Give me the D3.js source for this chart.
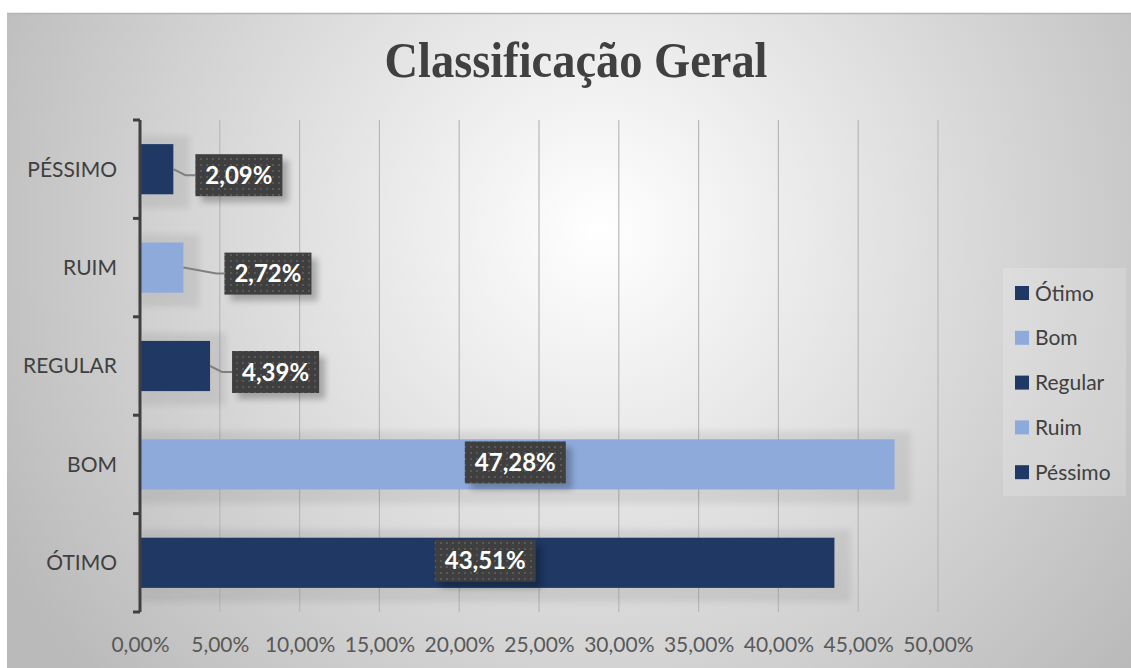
<!DOCTYPE html>
<html lang="pt">
<head>
<meta charset="UTF-8">
<title>Classificação Geral</title>
<script src="https://d3js.org/d3.v7.min.js"></script>
<style>
    body { margin: 0; background: #fff; }
    svg { display: block; }
    .cat text { font-family: Lato, "Open Sans", sans-serif; font-size: 21px; fill: #404040; }
    .xax text { font-family: Lato, "Open Sans", sans-serif; font-size: 21px; fill: #595959; }
    .lbl text { font-family: Lato, sans-serif; font-weight: bold; font-size: 24px; fill: #fff; }
    .legend text { font-family: Lato, "Open Sans", sans-serif; font-size: 21px; fill: #404040; }
</style>
</head>
<body>
<div id="chart"></div>
<script>
    // categories from bottom to top, as in the chart
    const categories = ["ÓTIMO", "BOM", "REGULAR", "RUIM", "PÉSSIMO"];
    const values = [43.51, 47.28, 4.39, 2.72, 2.09];
    const barColors = ["#1f3864", "#8eaadb", "#1f3864", "#8eaadb", "#1f3864"];
    const legendNames = ["Ótimo", "Bom", "Regular", "Ruim", "Péssimo"];
    const xTicks = [0, 5, 10, 15, 20, 25, 30, 35, 40, 45, 50];

    const W = 1131, H = 668;
    const fmt = v => v.toFixed(2).replace(".", ",") + "%";

    const svg = d3.select("#chart").append("svg")
        .attr("width", W)
        .attr("height", H);

    const defs = svg.append("defs");
    const bg = defs.append("radialGradient").attr("id", "bg")
        .attr("gradientUnits", "userSpaceOnUse")
        .attr("cx", 600).attr("cy", 230).attr("r", 680);
    bg.append("stop").attr("offset", "0%").attr("stop-color", "#ffffff");
    bg.append("stop").attr("offset", "100%").attr("stop-color", "#bababa");

    const pat = defs.append("pattern").attr("id", "dots")
        .attr("patternUnits", "userSpaceOnUse")
        .attr("width", 6).attr("height", 6);
    pat.append("rect").attr("width", 6).attr("height", 6).attr("fill", "#3f3f3f");
    pat.append("rect").attr("x", 2).attr("y", 2).attr("width", 2).attr("height", 2).attr("fill", "#595959");

    const sh = defs.append("filter").attr("id", "blur")
        .attr("x", "-20%").attr("y", "-20%").attr("width", "140%").attr("height", "140%");
    sh.append("feGaussianBlur").attr("stdDeviation", 3);

    // chart area background
    svg.append("rect")
        .attr("x", 7).attr("y", 13)
        .attr("width", W - 7).attr("height", H - 13)
        .attr("fill", "url(#bg)");
    svg.append("line")
        .attr("x1", 7).attr("x2", W).attr("y1", 13.5).attr("y2", 13.5)
        .attr("stroke", "#b4b4b4").attr("stroke-width", 1.5);

    // title
    svg.append("text")
        .attr("x", 576).attr("y", 77)
        .attr("text-anchor", "middle")
        .attr("textLength", 383)
        .attr("lengthAdjust", "spacingAndGlyphs")
        .style("font-family", "'Liberation Serif', 'DejaVu Serif', serif")
        .style("font-weight", "bold")
        .style("font-size", "50px")
        .style("fill", "#404040")
        .text("Classificação Geral");

    const margin = { left: 140, top: 120, bottom: 612 };
    const x = d3.scaleLinear().domain([0, 50]).range([margin.left, 938]);
    const y = d3.scaleBand().domain(categories.slice().reverse())
        .range([margin.top, margin.bottom]).paddingInner(0.49).paddingOuter(0.245);
    const yBand = d3.scaleBand().domain(categories.slice().reverse())
        .range([margin.top, margin.bottom]);

    // vertical gridlines
    svg.append("g")
        .selectAll("line")
        .data(xTicks.slice(1))
        .join("line")
        .attr("x1", d => x(d)).attr("x2", d => x(d))
        .attr("y1", margin.top).attr("y2", margin.bottom)
        .attr("stroke", "#b8b8b8").attr("stroke-width", 1.2);

    // soft bar shadows
    svg.append("g")
        .selectAll("rect")
        .data(values)
        .join("rect")
        .attr("x", x(0))
        .attr("y", (d, i) => y(categories[i]) - 8)
        .attr("width", d => x(d) - x(0) + 16)
        .attr("height", y.bandwidth() + 22)
        .attr("fill", "#000").attr("opacity", 0.07)
        .attr("filter", "url(#blur)");

    // bars
    svg.append("g")
        .selectAll("rect")
        .data(values)
        .join("rect")
        .attr("x", x(0))
        .attr("y", (d, i) => y(categories[i]))
        .attr("width", d => x(d) - x(0))
        .attr("height", y.bandwidth())
        .attr("fill", (d, i) => barColors[i]);

    // x axis labels
    const xa = svg.append("g").attr("class", "xax")
        .attr("transform", `translate(0,${margin.bottom})`)
        .call(d3.axisBottom(x).tickValues(xTicks).tickSize(0).tickPadding(25).tickFormat(fmt));
    xa.select(".domain").remove();

    // y axis with category labels
    const ya = svg.append("g").attr("class", "cat")
        .attr("transform", `translate(${margin.left},0)`)
        .call(d3.axisLeft(yBand).tickSize(0).tickPadding(23));
    ya.select(".domain").remove();
    ya.selectAll(".tick text").attr("dy", "0.35em");

    const axisLine = svg.append("g").attr("stroke", "#404040").attr("stroke-width", 3);
    axisLine.append("line")
        .attr("x1", margin.left).attr("x2", margin.left)
        .attr("y1", margin.top).attr("y2", margin.bottom);
    axisLine.selectAll(".tk")
        .data(d3.range(categories.length + 1))
        .join("line").attr("class", "tk")
        .attr("x1", margin.left - 7).attr("x2", margin.left)
        .attr("y1", i => margin.top + i * yBand.step())
        .attr("y2", i => margin.top + i * yBand.step());

    // data labels
    const inside = v => v > 20;
    const outGap = { "RUIM": 41 };
    const lbl = svg.append("g").attr("class", "lbl");
    values.forEach((v, i) => {
        const c = categories[i];
        const cy = y(c) + y.bandwidth() / 2;
        const g = lbl.append("g");
        const t = g.append("text").attr("dy", "0.36em").text(fmt(v));
        const tw = t.node().getComputedTextLength();
        const bw = tw + 20, bh = 42;
        let bx, by;
        if (inside(v)) {
            bx = (x(0) + x(v)) / 2 - bw / 2 - 2;
            by = cy - bh / 2 - 2;
        } else {
            const gap = outGap[c] || 22;
            bx = x(v) + gap;
            by = cy - bh / 2 + 6;
            const ly = by + bh / 2;
            const midX = c === "RUIM" ? bx - 8 : bx - 10;
            g.insert("path", "text")
                .attr("d", `M${x(v)},${cy} L${midX},${ly} L${bx},${ly}`)
                .attr("fill", "none").attr("stroke", "#808080").attr("stroke-width", 2);
        }
        g.insert("rect", "text")
            .attr("x", bx + 6).attr("y", by + 6).attr("width", bw).attr("height", bh)
            .attr("fill", "#000").attr("opacity", 0.25).attr("filter", "url(#blur)");
        g.insert("rect", "text")
            .attr("x", bx).attr("y", by).attr("width", bw).attr("height", bh)
            .attr("fill", "url(#dots)");
        t.attr("x", bx + bw / 2).attr("y", by + bh / 2).attr("text-anchor", "middle");
    });

    // legend
    const lg = svg.append("g").attr("class", "legend");
    lg.append("rect")
        .attr("x", 1003).attr("y", 268).attr("width", 123).attr("height", 228)
        .attr("fill", "#ffffff").attr("opacity", 0.18);
    const items = lg.selectAll(".it")
        .data(legendNames)
        .join("g").attr("class", "it")
        .attr("transform", (d, i) => `translate(1015,${293 + i * 44.8})`);
    items.append("rect")
        .attr("x", 0).attr("y", -7).attr("width", 14).attr("height", 14)
        .attr("fill", (d, i) => barColors[categories.length - 1 - i] );
    items.append("text")
        .attr("x", 20).attr("dy", "0.36em")
        .text(d => d);
</script>
</body>
</html>
